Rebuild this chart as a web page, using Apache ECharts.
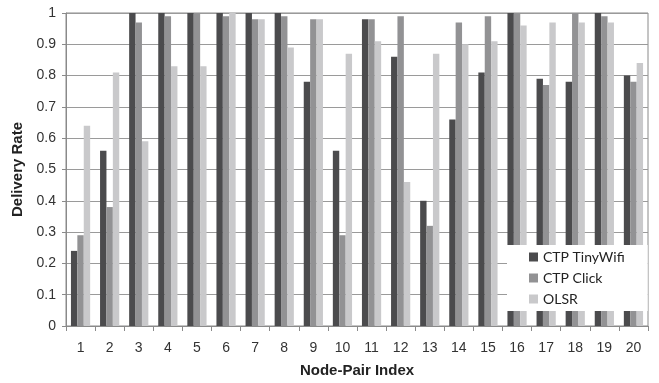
<!DOCTYPE html>
<html>
<head>
<meta charset="utf-8">
<script src="https://cdn.jsdelivr.net/npm/echarts@6/dist/echarts.min.js"></script>
<style>html,body{margin:0;padding:0;background:#fff}#c{width:659px;height:383px}</style>
</head>
<body>
<div id="c"></div>
<script>
const categories = ['1','2','3','4','5','6','7','8','9','10','11','12','13','14','15','16','17','18','19','20'];
const ctpTinyWifi = [0.24,0.56,1.00,1.00,1.00,1.00,1.00,1.00,0.78,0.56,0.98,0.86,0.40,0.66,0.81,1.00,0.79,0.78,1.00,0.80];
const ctpClick    = [0.29,0.38,0.97,0.99,1.00,0.99,0.98,0.99,0.98,0.29,0.98,0.99,0.32,0.97,0.99,1.00,0.77,1.00,0.99,0.78];
const olsr        = [0.64,0.81,0.59,0.83,0.83,1.00,0.98,0.89,0.98,0.87,0.91,0.46,0.87,0.90,0.91,0.96,0.97,0.97,0.97,0.84];
const yTicks = ['0','0.1','0.2','0.3','0.4','0.5','0.6','0.7','0.8','0.9','1'];

const chart = echarts.init(document.getElementById('c'), null, {renderer:'canvas'});
const font = '"Liberation Sans", Arial, sans-serif';
chart.setOption({
  animation: false,
  grid: {left: 66, right: 11, top: 13, bottom: 52, show: true, borderColor: '#8a8a8a', borderWidth: 1, backgroundColor: 'transparent'},
  legend: {
    orient: 'vertical', left: 507, top: 245,
    padding: [5, 23, 5, 22],
    backgroundColor: '#ffffff',
    itemWidth: 9, itemHeight: 9, itemGap: 7,
    icon: 'rect',
    textStyle: {fontFamily: 'Lato, sans-serif', fontSize: 14, color: '#222'},
    data: ['CTP TinyWifi','CTP Click','OLSR']
  },
  xAxis: {
    type: 'category', data: categories,
    name: 'Node-Pair Index', nameLocation: 'middle', nameGap: 37,
    nameTextStyle: {fontFamily: font, fontSize: 15, fontWeight: 'bold', color: '#222'},
    axisLine: {lineStyle: {color: '#8a8a8a'}},
    axisTick: {show: true, length: 5, lineStyle: {color: '#8a8a8a'}},
    axisLabel: {fontFamily: font, fontSize: 14, color: '#333', margin: 15},
    splitLine: {show: false}
  },
  yAxis: {
    type: 'value', min: 0, max: 1, interval: 0.1,
    name: 'Delivery Rate', nameLocation: 'middle', nameGap: 35,
    nameTextStyle: {fontFamily: font, fontSize: 15, fontWeight: 'bold', color: '#222'},
    axisLine: {show: true, lineStyle: {color: '#8a8a8a'}},
    axisTick: {show: true, length: 4, lineStyle: {color: '#8a8a8a'}},
    axisLabel: {fontFamily: font, fontSize: 14, color: '#333', margin: 10,
      formatter: v => yTicks[Math.round(v * 10)]},
    splitLine: {show: true, lineStyle: {color: '#9a9a9a', width: 1}}
  },
  series: [
    {name: 'CTP TinyWifi', type: 'bar', data: ctpTinyWifi, itemStyle: {color: '#4b4b4d'}, barGap: '0%', barCategoryGap: '34%'},
    {name: 'CTP Click', type: 'bar', data: ctpClick, itemStyle: {color: '#929294'}},
    {name: 'OLSR', type: 'bar', data: olsr, itemStyle: {color: '#c9c9cb'}}
  ]
});
</script>
</body>
</html>
